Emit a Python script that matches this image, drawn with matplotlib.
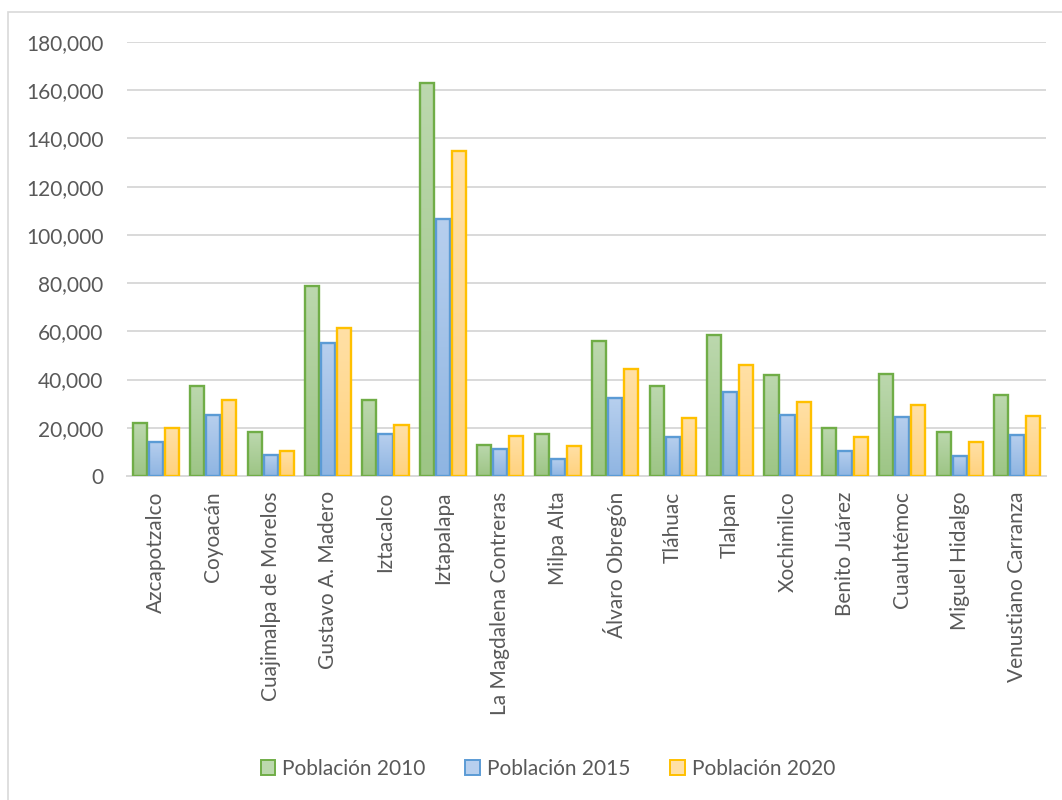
import matplotlib
matplotlib.use("Agg")
import matplotlib.pyplot as plt
import numpy as np
from matplotlib.colors import LinearSegmentedColormap
from matplotlib.patches import Rectangle

categories = ["Azcapotzalco", "Coyoacán", "Cuajimalpa de Morelos", "Gustavo A. Madero",
              "Iztacalco", "Iztapalapa", "La Magdalena Contreras", "Milpa Alta",
              "Álvaro Obregón", "Tláhuac", "Tlalpan", "Xochimilco", "Benito Juárez",
              "Cuauhtémoc", "Miguel Hidalgo", "Venustiano Carranza"]
pob_2010 = [22000, 37500, 18200, 78700, 31500, 162800, 13000, 17400,
            55800, 37200, 58600, 42000, 20000, 42100, 18300, 33700]
pob_2015 = [14200, 25400, 8600, 55300, 17300, 106600, 11400, 7200,
            32300, 16300, 34900, 25300, 10400, 24500, 8100, 17200]
pob_2020 = [20000, 31500, 10200, 61200, 21000, 134800, 16700, 12600,
            44300, 24000, 46200, 30800, 16200, 29600, 13900, 24900]
series_names = ["Población 2010", "Población 2015", "Población 2020"]
y_ticks = list(range(0, 180001, 20000))

series = [pob_2010, pob_2015, pob_2020]
edge_colors = ["#70ad47", "#5b9bd5", "#ffc000"]
grad = [("#bcd8ae", "#9dc585"), ("#b7cfee", "#8fb5e2"), ("#ffe0a6", "#ffd27e")]

plt.rcParams['font.family'] = ['Lato', 'DejaVu Sans']
txt = "#595959"
fs = 15

fig = plt.figure(figsize=(10.62, 8.0), dpi=100)
ax = fig.add_axes([127/1062, 1 - 476/800, (1046-127)/1062, (476-42)/800])

x = np.arange(len(categories))
w = 0.245
offs = [-0.279, 0.0, 0.279]

grad_arr = np.linspace(0, 1, 64).reshape(-1, 1)
for s, vals in enumerate(series):
    cmap = LinearSegmentedColormap.from_list("g%d" % s, [grad[s][0], grad[s][1]])
    bars = ax.bar(x + offs[s], vals, width=w, facecolor="none",
                  edgecolor=edge_colors[s], linewidth=1.7, zorder=3, label=series_names[s])
    for b in bars:
        x0, y0 = b.get_x(), b.get_y()
        bw, bh = b.get_width(), b.get_height()
        im = ax.imshow(grad_arr, cmap=cmap, aspect='auto', origin='upper',
                       extent=(x0, x0 + bw, y0, y0 + bh), zorder=2, interpolation='bilinear')
        im.set_clip_path(b)
ax.set_xlim(-0.5, len(categories) - 0.5)
ax.set_ylim(0, 180000)

ax.set_yticks(y_ticks)
ax.set_yticklabels([f"{v:,}" for v in y_ticks], fontsize=fs, color=txt)
ax.set_xticks(x)
ax.set_xticklabels(categories, rotation=90, fontsize=fs, color=txt)
ax.tick_params(axis='both', length=0)
ax.tick_params(axis='y', pad=17)
ax.tick_params(axis='x', pad=11)
ax.yaxis.grid(True, color="#d9d9d9", linewidth=1.4, zorder=0)
ax.set_axisbelow(True)
for sp in ["top", "right", "left"]:
    ax.spines[sp].set_visible(False)
ax.spines["bottom"].set_color("#d9d9d9")
ax.spines["bottom"].set_linewidth(1.4)

handles = [Rectangle((0, 0), 1, 1, facecolor=grad[i][0], edgecolor=edge_colors[i], linewidth=1.4)
           for i in range(3)]
leg = fig.legend(handles, series_names, loc="center", bbox_to_anchor=(548/1062, 1 - 769/800),
                 ncol=3, frameon=False, fontsize=fs, handlelength=0.7, handleheight=0.7,
                 handletextpad=0.35, columnspacing=1.9, labelcolor=txt)

fig.patches.append(Rectangle((8/1062, -0.1), 1.2, 1 - 12/800 + 0.1, transform=fig.transFigure,
                             facecolor="none", edgecolor="#d9d9d9", linewidth=1.2))

fig.savefig("out.png", dpi=100)
